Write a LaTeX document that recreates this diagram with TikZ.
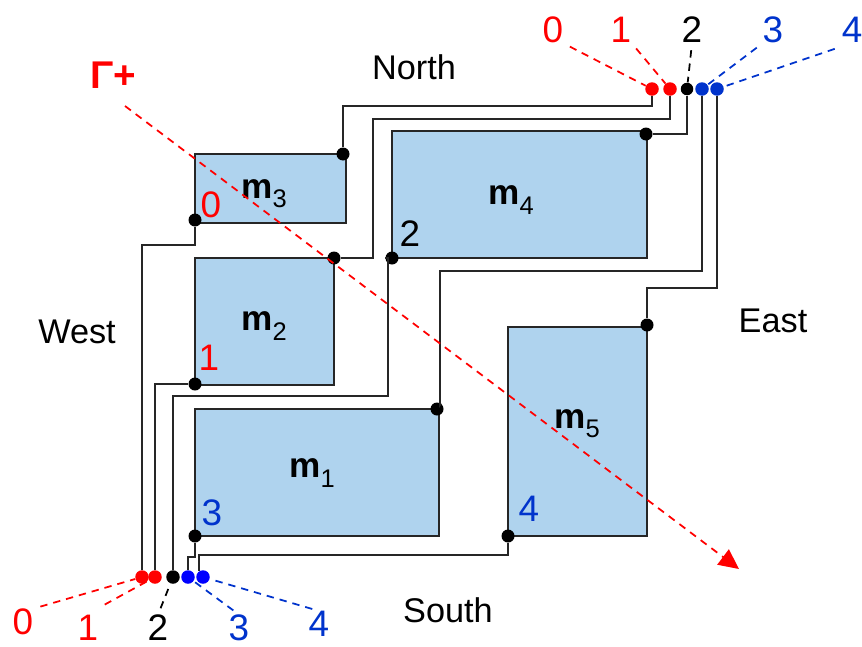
\documentclass[tikz,border=0pt]{standalone}
\usepackage{fontspec}
\setmainfont{Liberation Sans}
\usetikzlibrary{arrows.meta}
\definecolor{modfill}{HTML}{AFD3EE}
\definecolor{portred}{HTML}{FF0000}
\definecolor{portblue}{HTML}{0033CC}
\definecolor{southblue}{HTML}{0000FF}
\newcommand{\modname}[1]{\textbf{m}\raisebox{-0.5ex}{\fontsize{14.5}{14.5}\selectfont #1}}

\begin{document}
\begin{tikzpicture}[x=0.02cm, y=-0.02cm,
  module/.style={draw=black!85, fill=modfill, line width=1.1pt, anchor=north west, inner sep=0pt, outer sep=0pt},
  modlabel/.style={font=\fontsize{20}{20}\selectfont, inner sep=0pt},
  side/.style={font=\fontsize{19.5}{20}\selectfont, inner sep=0pt},
  port/.style={font=\fontsize{21}{21}\selectfont, inner sep=0pt},
  pin/.style={circle, fill=black, minimum size=0.26cm, inner sep=0pt},
  term/.style={circle, fill=#1, minimum size=0.27cm, inner sep=0pt},
  wire/.style={black!85, line width=1.1pt},
  lead/.style={dash pattern=on 4.2pt off 3.4pt, line width=1pt, shorten <=4pt}]
\useasboundingbox (0,0) rectangle (862,646);
% modules
\node[module, minimum width=3.02cm, minimum height=1.38cm] (m3) at (195,154) {};
\node[module, minimum width=2.78cm, minimum height=2.54cm] (m2) at (195,258) {};
\node[module, minimum width=5.10cm, minimum height=2.54cm] (m4) at (392,131) {};
\node[module, minimum width=4.88cm, minimum height=2.54cm] (m1) at (195,409) {};
\node[module, minimum width=2.78cm, minimum height=4.18cm] (m5) at (508,327) {};
\node[modlabel] (lm3) at (264,194) {\modname{3}};
\node[modlabel] (lm4) at (511,200) {\modname{4}};
\node[modlabel] (lm2) at (264,326) {\modname{2}};
\node[modlabel] (lm1) at (312,473) {\modname{1}};
\node[modlabel] (lm5) at (577,424) {\modname{5}};
% sides
\node[side] (north) at (414,67) {North};
\node[side] (west) at (77,332) {West};
\node[side] (east) at (773,321) {East};
\node[side] (south) at (448,610) {South};
% pins on the modules
\node[pin] (p3a) at (343,154) {};
\node[pin] (p3b) at (195,220) {};
\node[pin] (p2a) at (334,258) {};
\node[pin] (p2b) at (195,384) {};
\node[pin] (p4a) at (646,134) {};
\node[pin] (p4b) at (392,258) {};
\node[pin] (p1a) at (437,409) {};
\node[pin] (p1b) at (195,536) {};
\node[pin] (p5a) at (647,325) {};
\node[pin] (p5b) at (508,536) {};
% terminals
\node[term=portred] (n0) at (652,89) {};
\node[term=portred] (n1) at (670,89) {};
\node[term=black, minimum size=0.25cm] (n2) at (687,89) {};
\node[term=portblue] (n3) at (702,89) {};
\node[term=portblue] (n4) at (717,89) {};
\node[term=portred] (s0) at (142,577) {};
\node[term=portred] (s1) at (155,577) {};
\node[term=black] (s2) at (173,577) {};
\node[term=southblue] (s3) at (188,577) {};
\node[term=southblue] (s4) at (203,577) {};
% wires
\draw[wire] (n0) -- ++(0,17) -| (p3a);
\draw[wire] (n1) -- ++(0,30) -| (373,258) -- (p2a);
\draw[wire] (n2) -- ++(0,45) -- (p4a);
\draw[wire] (n3) -- ++(0,182) -| (440,405) -- (p1a);
\draw[wire] (n4) -- ++(0,199) -| (p5a);
\draw[wire] (s0) |- (195,245) -- (p3b);
\draw[wire] (s1) |- (p2b);
\draw[wire] (s2) |- (388,396) -- (388,258) -- (p4b);
\draw[wire] (s3) |- (195,557) -- (p1b);
\draw[wire] (199,571) |- (508,555) -- (p5b);
% port labels
\node[port, text=portred] (nl0) at (553,30) {0};
\node[port, text=portred] (nl1) at (621,30) {1};
\node[port] (nl2) at (692,30) {2};
\node[port, text=portblue] (nl3) at (773,30) {3};
\node[port, text=portblue] (nl4) at (852,30) {4};
\node[port, text=portred] (sl0) at (23,622) {0};
\node[port, text=portred] (sl1) at (88,628) {1};
\node[port] (sl2) at (158,628) {2};
\node[port, text=portblue] (sl3) at (239,628) {3};
\node[port, text=portblue] (sl4) at (319,624) {4};
\node[port, text=portred] (in0) at (211,205) {0};
\node[port] (in2) at (410,234) {2};
\node[port, text=portred] (in1) at (209,358) {1};
\node[port, text=portblue] (in3) at (212,513) {3};
\node[port, text=portblue] (in4) at (529,509) {4};
% leaders
\draw[lead, portred] (nl0.south east) -- (n0);
\draw[lead, portred] (nl1.south east) -- (n1);
\draw[lead, black] (nl2.south) -- (n2);
\draw[lead, portblue] (nl3.south west) -- (n3);
\draw[lead, portblue] ([yshift=-2pt]nl4.south west) -- (n4);
\draw[lead, portred] (sl0.north east) -- (s0);
\draw[lead, portred] ([yshift=4pt]sl1.north east) -- (s1);
\draw[lead, black] (sl2.north) -- (s2);
\draw[lead, portblue] (sl3.north) -- (s3);
\draw[lead, portblue] (sl4.north) -- (s4);
% the ordering line
\node[font=\fontsize{22}{22}\selectfont\bfseries, text=portred, inner sep=0pt] (gam) at (113,75) {Γ+};
\coordinate (gstart) at (125,106);
\coordinate (gend) at (739,569);
\draw[portred, dash pattern=on 4.2pt off 3.4pt, line width=1pt, -{Triangle[length=4mm, width=3.8mm]}] (gstart) -- (gend);
\end{tikzpicture}
\end{document}
